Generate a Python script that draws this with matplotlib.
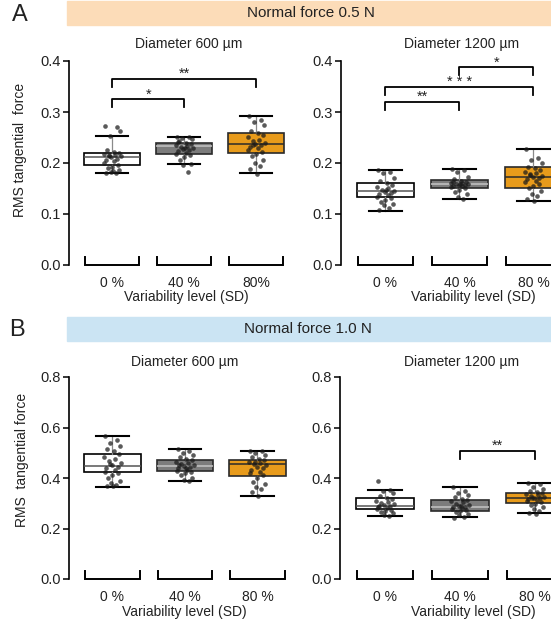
import numpy as np
import matplotlib.pyplot as plt
from matplotlib.patches import Rectangle

plt.rcParams['font.family'] = ['Liberation Sans', 'DejaVu Sans']
plt.rcParams['text.color'] = '#222222'
plt.rcParams['ytick.labelcolor'] = '#222222'
plt.rcParams['xtick.labelcolor'] = '#222222'

W, H = 551, 625

# категории и цвета коробок
levels = ['0 %', '40 %', '80 %']
levels_a_left = ['0 %', '40 %', '80%']
box_colors = ['white', '#7c7c7c', '#e89b1b']
median_colors = ['#555555', '#c4c4c4', '#2a2a2a']

# статистики коробок: q1, median, q3, нижний ус, верхний ус
# A: 0.5 N, 600 мкм
a600_q1 = [0.196, 0.218, 0.220]
a600_med = [0.212, 0.233, 0.237]
a600_q3 = [0.220, 0.240, 0.259]
a600_lo = [0.180, 0.198, 0.180]
a600_hi = [0.253, 0.251, 0.292]
# A: 0.5 N, 1200 мкм
a1200_q1 = [0.133, 0.151, 0.151]
a1200_med = [0.145, 0.159, 0.172]
a1200_q3 = [0.161, 0.167, 0.192]
a1200_lo = [0.106, 0.130, 0.126]
a1200_hi = [0.186, 0.188, 0.228]
# B: 1.0 N, 600 мкм
b600_q1 = [0.422, 0.426, 0.408]
b600_med = [0.446, 0.446, 0.455]
b600_q3 = [0.496, 0.472, 0.470]
b600_lo = [0.366, 0.388, 0.330]
b600_hi = [0.566, 0.516, 0.508]
# B: 1.0 N, 1200 мкм
b1200_q1 = [0.278, 0.270, 0.300]
b1200_med = [0.289, 0.287, 0.321]
b1200_q3 = [0.320, 0.313, 0.340]
b1200_lo = [0.250, 0.246, 0.260]
b1200_hi = [0.354, 0.363, 0.382]

# отдельные испытуемые (точки)
a600_pts = [
    [0.272, 0.271, 0.253, 0.262, 0.225, 0.222, 0.220, 0.218, 0.216, 0.215, 0.213, 0.211, 0.208,
     0.205, 0.203, 0.200, 0.197, 0.193, 0.190, 0.186, 0.183, 0.181, 0.180, 0.185, 0.214],
    [0.251, 0.250, 0.249, 0.247, 0.244, 0.240, 0.238, 0.236, 0.234, 0.232, 0.230, 0.228, 0.226,
     0.223, 0.220, 0.218, 0.215, 0.212, 0.206, 0.198, 0.196, 0.183, 0.241, 0.229],
    [0.292, 0.285, 0.280, 0.275, 0.262, 0.258, 0.255, 0.250, 0.246, 0.243, 0.240, 0.237, 0.235,
     0.232, 0.229, 0.225, 0.221, 0.217, 0.213, 0.205, 0.200, 0.195, 0.188, 0.178, 0.236],
]
a1200_pts = [
    [0.186, 0.183, 0.180, 0.170, 0.165, 0.160, 0.157, 0.153, 0.150, 0.147, 0.145, 0.143, 0.141,
     0.139, 0.137, 0.134, 0.131, 0.128, 0.124, 0.120, 0.117, 0.112, 0.108, 0.148],
    [0.188, 0.186, 0.182, 0.172, 0.168, 0.165, 0.163, 0.161, 0.160, 0.159, 0.158, 0.157, 0.156,
     0.155, 0.154, 0.152, 0.150, 0.147, 0.143, 0.140, 0.133, 0.130, 0.162, 0.158],
    [0.228, 0.210, 0.205, 0.200, 0.193, 0.190, 0.186, 0.183, 0.180, 0.177, 0.175, 0.172, 0.170,
     0.168, 0.165, 0.162, 0.158, 0.155, 0.150, 0.146, 0.140, 0.135, 0.130, 0.126, 0.178],
]
b600_pts = [
    [0.566, 0.550, 0.540, 0.525, 0.515, 0.505, 0.495, 0.485, 0.475, 0.468, 0.460, 0.452, 0.445,
     0.438, 0.430, 0.424, 0.418, 0.410, 0.400, 0.390, 0.380, 0.372, 0.367, 0.370, 0.455],
    [0.516, 0.505, 0.498, 0.490, 0.482, 0.476, 0.470, 0.465, 0.460, 0.455, 0.450, 0.446, 0.442,
     0.438, 0.433, 0.428, 0.424, 0.418, 0.410, 0.400, 0.393, 0.389, 0.452, 0.440],
    [0.508, 0.505, 0.498, 0.490, 0.482, 0.476, 0.470, 0.465, 0.460, 0.455, 0.450, 0.445, 0.440,
     0.432, 0.425, 0.418, 0.410, 0.400, 0.385, 0.375, 0.365, 0.355, 0.345, 0.330, 0.462],
]
b1200_pts = [
    [0.390, 0.354, 0.350, 0.340, 0.330, 0.322, 0.315, 0.310, 0.305, 0.300, 0.296, 0.292, 0.288,
     0.285, 0.282, 0.278, 0.274, 0.270, 0.265, 0.260, 0.252, 0.248, 0.290],
    [0.363, 0.350, 0.340, 0.332, 0.325, 0.318, 0.312, 0.308, 0.303, 0.298, 0.294, 0.290, 0.287,
     0.284, 0.280, 0.276, 0.272, 0.268, 0.264, 0.258, 0.252, 0.246, 0.242, 0.288],
    [0.382, 0.375, 0.365, 0.358, 0.350, 0.345, 0.340, 0.336, 0.332, 0.328, 0.325, 0.322, 0.319,
     0.316, 0.312, 0.308, 0.303, 0.298, 0.292, 0.285, 0.278, 0.270, 0.262, 0.256, 0.320],
]
# фиксированный разброс точек по x
jitter = [-0.10, 0.06, -0.03, 0.11, -0.07, 0.02, 0.09, -0.12, 0.04, -0.05, 0.12, -0.01, 0.07,
          -0.09, 0.03, -0.11, 0.08, 0.00, -0.06, 0.10, -0.02, 0.05, -0.08, 0.01, -0.04]

# значимость: (метка, группа 1, группа 2, высота)
a600_sig = [('**', 0, 2, 0.365), ('*', 0, 1, 0.325)]
a1200_sig = [('*', 1, 2, 0.388), ('* * *', 0, 2, 0.349), ('**', 0, 1, 0.320)]
b600_sig = []
b1200_sig = [('**', 1, 2, 0.507)]

fig = plt.figure(figsize=(W / 100, H / 100), dpi=100)


def px_axes(left, top, right, bottom):
    return fig.add_axes([left / W, 1 - bottom / H, (right - left) / W, (bottom - top) / H])


def ftext(x, y, s, **kw):
    fig.text(x / W, 1 - y / H, s, ha='center', va='center', **kw)


def draw_panel(ax, q1, med, q3, lo, hi, pts, sig, ymax, step, xlabels, xmax):
    pos = np.arange(3)
    stats = [dict(q1=q1[i], med=med[i], q3=q3[i], whislo=lo[i], whishi=hi[i], fliers=[])
             for i in range(3)]
    bp = ax.bxp(stats, positions=pos, widths=0.78, patch_artist=True, capwidths=0.45,
                whiskerprops=dict(color='#8a8a8a', lw=0.9),
                capprops=dict(color='black', lw=1.5),
                boxprops=dict(lw=1.2), manage_ticks=False)
    for i, b in enumerate(bp['boxes']):
        b.set_facecolor(box_colors[i])
        b.set_edgecolor('black' if i == 0 else '#2a2a2a')
        bp['medians'][i].set_color(median_colors[i])
        bp['medians'][i].set_linewidth(1.1)
    for i in range(3):
        ax.scatter(pos[i] + np.array(jitter[:len(pts[i])]), pts[i], s=11, color='#1a1a1a',
                   alpha=0.72, lw=0, zorder=4)

    # скобки категорий внизу
    th = 0.04 * ymax
    for p in pos:
        ax.plot([p - 0.375, p - 0.375, p + 0.375, p + 0.375], [th, 0, 0, th],
                color='black', lw=1.4, clip_on=False, solid_joinstyle='miter')

    # скобки значимости
    for lab, g1, g2, y in sig:
        ax.plot([g1, g1, g2, g2], [y - th, y, y, y - th], color='black', lw=1.3,
                clip_on=False)
        ax.text((g1 + g2) / 2, y + 0.004 * ymax, lab, ha='center', va='baseline', fontsize=10.5)

    ax.set_ylim(0, ymax)
    ax.set_xlim(-0.6, xmax)
    ax.set_yticks(np.arange(0, ymax + 1e-9, step))
    ax.set_yticklabels([f'{v:.1f}' for v in np.arange(0, ymax + 1e-9, step)])
    ax.set_xticks(pos)
    ax.set_xticklabels(xlabels)
    ax.tick_params(axis='y', length=4.5, width=1.1, pad=1.5, labelsize=10.5)
    ax.tick_params(axis='x', length=0, pad=8, labelsize=10)
    for s in ['top', 'right', 'bottom']:
        ax.spines[s].set_visible(False)
    ax.spines['left'].set_linewidth(1.2)
    ax.patch.set_alpha(0)


# шапки с нормальной силой
fig.patches.append(Rectangle((67 / W, 1 - 25 / H), (W - 67) / W, 24 / H,
                             transform=fig.transFigure, color='#fcdcb8', zorder=0))
fig.patches.append(Rectangle((67 / W, 1 - 341 / H), (W - 67) / W, 24 / H,
                             transform=fig.transFigure, color='#cbe4f3', zorder=0))
ftext(311, 13, 'Normal force 0.5 N', fontsize=11)
ftext(308, 329, 'Normal force 1.0 N', fontsize=11)
ftext(20, 15, 'A', fontsize=17)
ftext(17, 330, 'B', fontsize=17)

ax1 = px_axes(69, 61, 69 + 3.1 * 72, 265)
draw_panel(ax1, a600_q1, a600_med, a600_q3, a600_lo, a600_hi, a600_pts, a600_sig,
           0.4, 0.1, levels_a_left, 2.5)
ax2 = px_axes(341, 61, 341 + 2.85 * 74, 265)
draw_panel(ax2, a1200_q1, a1200_med, a1200_q3, a1200_lo, a1200_hi, a1200_pts, a1200_sig,
           0.4, 0.1, levels, 2.25)
ax3 = px_axes(69, 377, 69 + 3.1 * 72.5, 579)
draw_panel(ax3, b600_q1, b600_med, b600_q3, b600_lo, b600_hi, b600_pts, b600_sig,
           0.8, 0.2, levels, 2.5)
ax4 = px_axes(340, 377, 340 + 2.88 * 75, 579)
draw_panel(ax4, b1200_q1, b1200_med, b1200_q3, b1200_lo, b1200_hi, b1200_pts, b1200_sig,
           0.8, 0.2, levels, 2.28)

# подписи панелей
ftext(189, 44, 'Diameter 600 µm', fontsize=10)
ftext(462, 44, 'Diameter 1200 µm', fontsize=10)
ftext(185, 362, 'Diameter 600 µm', fontsize=10)
ftext(462, 362, 'Diameter 1200 µm', fontsize=10)
ftext(186, 297, 'Variability level (SD)', fontsize=10)
ftext(184, 612, 'Variability level (SD)', fontsize=10)
ftext(473, 612, 'Variability level (SD)', fontsize=10)
ftext(473, 297, 'Variability level (SD)', fontsize=10)
ftext(20, 150, 'RMS tangential  force', fontsize=10, rotation=90)
ftext(22, 460, 'RMS  tangential force', fontsize=10, rotation=90)

fig.savefig('out.png', dpi=100)
